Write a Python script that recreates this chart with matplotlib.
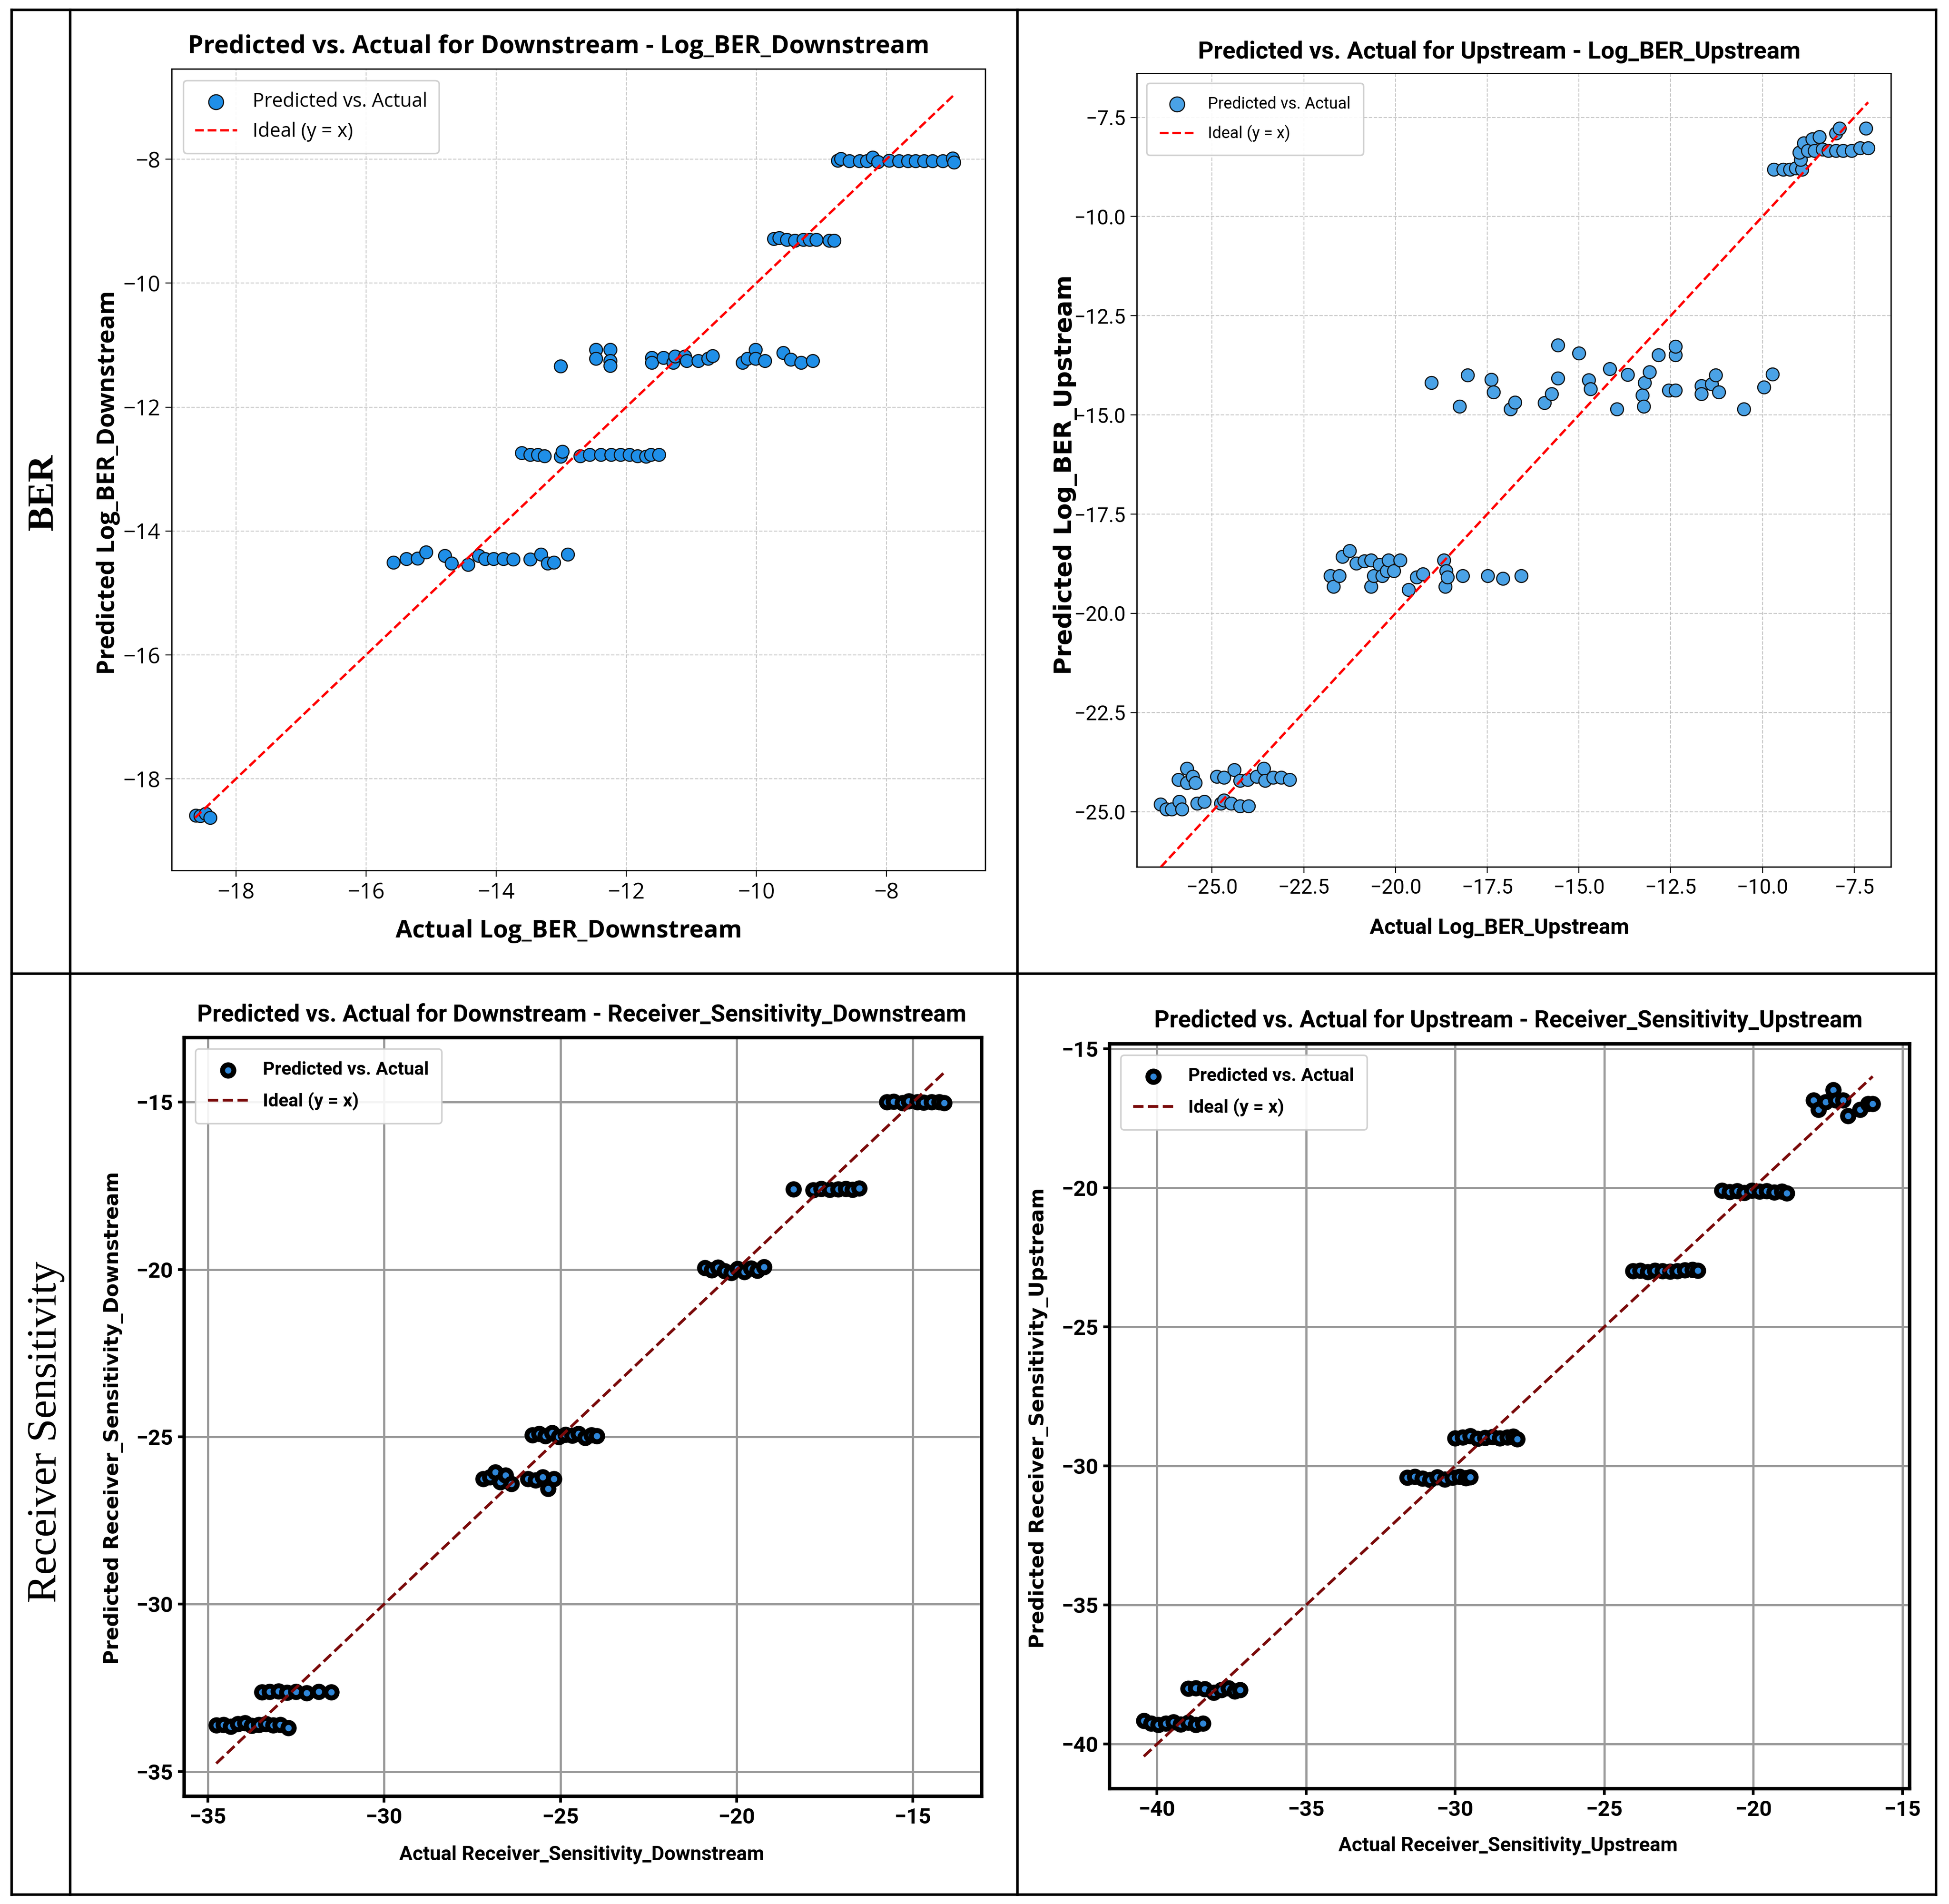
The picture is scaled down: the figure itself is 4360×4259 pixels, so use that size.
import numpy as np
import matplotlib
matplotlib.use("Agg")
import matplotlib.pyplot as plt
from matplotlib.lines import Line2D

# ---- data ----
# Log_BER_Downstream
ber_dn_actual = [-18.62, -18.55, -18.47, -18.40,
                 -15.58, -15.38, -15.21, -15.08, -14.79, -14.69, -14.43, -14.27, -14.17, -14.04, -13.89, -13.74,
                 -13.48, -13.31, -13.21, -13.11, -12.90,
                 -13.61, -13.48, -13.36, -13.26, -13.01, -12.98, -12.71, -12.56, -12.39, -12.23, -12.09, -11.95,
                 -11.83, -11.70, -11.62, -11.50,
                 -13.01, -12.47, -12.47, -12.25, -12.25, -12.25, -11.61, -11.61, -11.43, -11.28, -11.25, -11.10,
                 -11.07, -10.89, -10.74, -10.67, -10.21, -10.14, -10.01, -10.01, -9.87, -9.59, -9.47, -9.31, -9.13,
                 -9.73, -9.65, -9.53, -9.41, -9.28, -9.18, -9.08, -8.88, -8.80,
                 -8.75, -8.70, -8.57, -8.41, -8.30, -8.21, -8.13, -7.96, -7.81, -7.67, -7.55, -7.42, -7.29, -7.13,
                 -6.98, -6.96]
ber_dn_pred = [-18.59, -18.60, -18.56, -18.63,
               -14.51, -14.45, -14.44, -14.34, -14.40, -14.52, -14.54, -14.40, -14.45, -14.45, -14.45, -14.46,
               -14.46, -14.38, -14.52, -14.51, -14.38,
               -12.74, -12.77, -12.77, -12.79, -12.80, -12.72, -12.79, -12.77, -12.77, -12.77, -12.77, -12.77,
               -12.79, -12.80, -12.77, -12.77,
               -11.34, -11.07, -11.22, -11.07, -11.25, -11.33, -11.20, -11.28, -11.20, -11.28, -11.18, -11.18,
               -11.25, -11.25, -11.22, -11.17, -11.28, -11.22, -11.07, -11.22, -11.25, -11.12, -11.23, -11.28, -11.25,
               -9.28, -9.27, -9.30, -9.31, -9.30, -9.30, -9.30, -9.31, -9.31,
               -8.02, -7.99, -8.03, -8.03, -8.03, -7.97, -8.04, -8.02, -8.03, -8.03, -8.03, -8.03, -8.03, -8.03,
               -7.98, -8.05]

# Log_BER_Upstream
ber_up_actual = [-9.69, -9.44, -9.25, -9.09, -8.93, -8.96, -9.00, -8.88, -8.77, -8.64, -8.58, -8.45, -8.36,
                 -8.21, -8.00, -7.90, -8.00, -7.80, -7.57, -7.34, -7.18, -7.12,
                 -19.02, -18.26, -18.04, -17.39, -17.33, -16.87, -16.75, -15.94, -15.74, -15.58, -15.58, -15.00,
                 -14.74, -14.69, -14.16, -13.97, -13.68, -13.27, -13.21, -13.24, -13.08, -12.84, -12.56, -12.37,
                 -12.37, -12.37, -11.67, -11.67, -11.38, -11.27, -11.19, -10.51, -9.96, -9.73,
                 -21.77, -21.69, -21.53, -21.45, -21.25, -21.07, -20.85, -20.67, -20.67, -20.59, -20.43, -20.36,
                 -20.24, -20.19, -20.04, -19.88, -19.64, -19.43, -19.26, -18.68, -18.65, -18.62, -18.59, -18.17,
                 -17.49, -17.07, -16.58,
                 -26.40, -26.25, -26.10, -25.89, -25.82, -25.92, -25.68, -25.68, -25.53, -25.45, -25.40, -25.21,
                 -24.87, -24.68, -24.76, -24.68, -24.48, -24.40, -24.24, -24.24, -24.03, -24.00, -23.79, -23.59,
                 -23.56, -23.34, -23.11, -22.88]
ber_up_pred = [-8.81, -8.81, -8.81, -8.78, -8.81, -8.57, -8.38, -8.15, -8.34, -8.05, -8.34, -7.99, -8.31,
               -8.34, -7.90, -7.78, -8.34, -8.34, -8.34, -8.27, -7.78, -8.27,
               -14.19, -14.79, -14.00, -14.11, -14.42, -14.85, -14.68, -14.69, -14.47, -14.08, -13.24, -13.44,
               -14.12, -14.34, -13.84, -14.85, -13.98, -14.50, -14.19, -14.79, -13.92, -13.49, -14.38, -14.38,
               -13.49, -13.27, -14.27, -14.47, -14.22, -14.00, -14.42, -14.85, -14.30, -13.97,
               -19.06, -19.32, -19.06, -18.57, -18.42, -18.74, -18.68, -18.66, -19.32, -19.06, -18.77, -19.06,
               -18.93, -18.66, -18.93, -18.66, -19.40, -19.09, -19.01, -18.66, -19.32, -18.93, -19.09, -19.06,
               -19.06, -19.12, -19.06,
               -24.81, -24.94, -24.94, -24.75, -24.94, -24.19, -23.91, -24.27, -24.11, -24.27, -24.79, -24.75,
               -24.11, -24.14, -24.79, -24.71, -24.79, -23.95, -24.22, -24.86, -24.19, -24.86, -24.11, -23.91,
               -24.22, -24.14, -24.14, -24.19]

# Receiver_Sensitivity_Downstream
rs_dn_actual = [-15.74, -15.55, -15.29, -15.12, -14.88, -14.70, -14.47, -14.25, -14.11,
                -18.39, -17.83, -17.60, -17.36, -17.12, -16.90, -16.71, -16.53,
                -20.90, -20.71, -20.53, -20.34, -20.15, -19.97, -19.78, -19.59, -19.41, -19.22,
                -25.79, -25.60, -25.42, -25.23, -25.05, -24.86, -24.67, -24.49, -24.30, -24.12, -23.97,
                -27.19, -27.00, -26.85, -26.70, -26.55, -26.39, -25.92, -25.70, -25.50, -25.35, -25.18,
                -33.46, -33.25, -33.00, -32.75, -32.50, -32.20, -31.85, -31.50,
                -34.76, -34.55, -34.35, -34.15, -33.95, -33.75, -33.55, -33.35, -33.15, -32.95, -32.71]
rs_dn_pred = [-15.00, -14.98, -15.02, -14.97, -15.00, -15.01, -14.99, -15.00, -15.02,
              -17.60, -17.62, -17.59, -17.61, -17.60, -17.58, -17.61, -17.57,
              -19.95, -20.02, -19.93, -20.05, -20.10, -19.98, -20.07, -19.96, -20.03, -19.92,
              -24.95, -24.90, -24.97, -24.88, -25.00, -24.93, -24.96, -24.90, -25.02, -24.95, -24.97,
              -26.25, -26.20, -26.05, -26.35, -26.15, -26.40, -26.25, -26.30, -26.20, -26.55, -26.25,
              -32.63, -32.62, -32.60, -32.64, -32.62, -32.66, -32.62, -32.63,
              -33.62, -33.60, -33.65, -33.58, -33.55, -33.63, -33.60, -33.58, -33.62, -33.60, -33.70]

# Receiver_Sensitivity_Upstream
rs_up_actual = [-17.98, -17.82, -17.58, -17.32, -17.23, -16.99, -16.83, -16.43, -16.15, -16.00,
                -21.06, -20.80, -20.55, -20.30, -20.05, -19.80, -19.55, -19.30, -19.05, -18.88,
                -24.04, -23.80, -23.55, -23.30, -23.05, -22.80, -22.55, -22.30, -22.05, -21.86,
                -30.00, -29.75, -29.50, -29.25, -29.00, -28.75, -28.50, -28.25, -28.05, -27.92,
                -31.60, -31.35, -31.10, -30.85, -30.60, -30.35, -30.10, -29.85, -29.65, -29.50,
                -38.95, -38.70, -38.40, -38.10, -37.85, -37.60, -37.40, -37.22,
                -40.44, -40.20, -39.95, -39.70, -39.45, -39.20, -38.95, -38.70, -38.45]
rs_up_pred = [-16.85, -17.20, -16.92, -16.49, -16.85, -16.85, -17.41, -17.20, -16.98, -16.98,
              -20.10, -20.15, -20.12, -20.18, -20.10, -20.14, -20.12, -20.16, -20.13, -20.20,
              -23.00, -22.98, -23.02, -22.97, -23.00, -23.01, -22.99, -22.96, -22.95, -22.98,
              -29.00, -28.97, -28.92, -29.02, -28.98, -28.95, -29.01, -28.97, -28.94, -29.03,
              -30.42, -30.38, -30.45, -30.50, -30.40, -30.48, -30.42, -30.38, -30.44, -30.40,
              -38.00, -37.98, -38.02, -38.15, -38.05, -37.98, -38.10, -38.05,
              -39.15, -39.25, -39.30, -39.25, -39.20, -39.28, -39.22, -39.30, -39.25]

row_labels = ["BER", "Receiver Sensitivity"]

W, H = 4360, 4259
fig = plt.figure(figsize=(W / 100, H / 100), dpi=100)
fig.patch.set_facecolor("white")

OPEN = ["Open Sans", "DejaVu Sans"]
NARROW = ["Roboto", "DejaVu Sans"]


def px(x0, y0, x1, y1):
    # pixel box (top-left origin) -> figure rect
    return [x0 / W, 1 - y1 / H, (x1 - x0) / W, (y1 - y0) / H]


def panel(rect, actual, pred, xlim, ylim, style):
    ax = fig.add_axes(rect)
    a = np.array(actual)
    p = np.array(pred)
    lo = min(a.min(), p.min())
    hi = max(a.max(), p.max())
    ax.scatter(a, p, s=style["s"], c=style["face"], edgecolors=style["edge"],
               linewidths=style["ew"], alpha=style["alpha"], label="Predicted vs. Actual", zorder=3)
    ax.plot([lo, hi], [lo, hi], ls="--", color=style["line"], lw=style["lw"], label="Ideal (y = x)", zorder=4)
    ax.set_xlim(xlim)
    ax.set_ylim(ylim)
    ax.grid(True, ls=style["gls"], color=style["gc"], lw=style["glw"], alpha=style["galpha"])
    ax.set_axisbelow(True)
    for sp in ax.spines.values():
        sp.set_linewidth(style["spw"])
        sp.set_color("black")
    ax.tick_params(labelsize=style["tfs"], labelfontfamily=style["tfam"], width=style["spw"] * 0.8,
                   length=10, pad=8)
    for lbl in ax.get_xticklabels() + ax.get_yticklabels():
        lbl.set_fontweight(style["tw"])
    leg = ax.legend(loc="upper left", prop={"family": style["lfam"], "size": style["lfs"], "weight": style["lw_"]},
                    borderpad=style["bp"], labelspacing=style["lsp"], handlelength=2.2,
                    markerscale=style["ms"], framealpha=0.9, borderaxespad=0.6)
    leg.get_frame().set_linewidth(2.5)
    return ax


top_style = dict(s=430, face="#1f8fe8", edge="#111111", ew=1.8, alpha=1.0, line="red", lw=3.8,
                 gls="--", gc="#bbbbbb", glw=1.5, galpha=0.8, spw=2.0, tfs=35, tfam=OPEN, tw="normal",
                 lfam=OPEN, lfs=31, lw_="normal", ms=1.15, bp=0.6, lsp=0.5)
tr_style = dict(top_style)
tr_style.update(face="#4aa2e6", tfam=NARROW, tfs=33, lfam=NARROW, lfs=26, bp=0.8, lsp=0.8)
bot_style = dict(s=330, face="#2f86d8", edge="black", ew=8, alpha=1.0, line="#7a0a0a", lw=4.5,
                 gls="-", gc="#9a9a9a", glw=3.5, galpha=1.0, spw=5.5, tfs=35, tfam=NARROW, tw="bold",
                 lfam=NARROW, lfs=29.5, lw_="bold", ms=1.0, bp=0.7, lsp=0.75)

ax1 = panel(px(384, 154, 2204, 1947), ber_dn_actual, ber_dn_pred, (-18.99, -6.48), (-19.48, -6.54), top_style)
ax2 = panel(px(2543, 164, 4230, 1939), ber_up_actual, ber_up_pred, (-27.05, -6.50), (-26.39, -6.39), tr_style)
ax3 = panel(px(412, 2321, 2196, 4018), rs_dn_actual, rs_dn_pred, (-35.67, -13.05), (-35.74, -13.07), bot_style)
ax4 = panel(px(2482, 2335, 4272, 4001), rs_up_actual, rs_up_pred, (-41.59, -14.76), (-41.6, -14.83), bot_style)

# titles and axis labels
def ftext(x, y, s, **kw):
    fig.text(x / W, 1 - y / H, s, ha="center", va="center", **kw)

ftext(1250, 105, "Predicted vs. Actual for Downstream - Log_BER_Downstream", family=OPEN, weight="bold", size=40)
ftext(1272, 2083, "Actual Log_BER_Downstream", family=OPEN, weight="bold", size=39)
ftext(242, 1080, "Predicted Log_BER_Downstream", family=OPEN, weight="bold", size=39, rotation=90)

ftext(3354, 116, "Predicted vs. Actual for Upstream - Log_BER_Upstream", family=NARROW, weight="bold", size=39)
ftext(3354, 2076, "Actual Log_BER_Upstream", family=NARROW, weight="bold", size=35)
ftext(2383, 1062, "Predicted Log_BER_Upstream", family=["DejaVu Sans"], weight="bold", size=39, rotation=90)

ftext(1301, 2270, "Predicted vs. Actual for Downstream - Receiver_Sensitivity_Downstream", family=NARROW,
      weight="bold", size=38)
ftext(1301, 4149, "Actual Receiver_Sensitivity_Downstream", family=NARROW, weight="bold", size=32)
ftext(254, 3172, "Predicted Receiver_Sensitivity_Downstream", family=["DejaVu Sans"], weight="bold", size=32,
      rotation=90)

ftext(3374, 2283, "Predicted vs. Actual for Upstream - Receiver_Sensitivity_Upstream", family=NARROW,
      weight="bold", size=38)
ftext(3374, 4129, "Actual Receiver_Sensitivity_Upstream", family=NARROW, weight="bold", size=32)
ftext(2324, 3172, "Predicted Receiver_Sensitivity_Upstream", family=["DejaVu Sans"], weight="bold", size=32,
      rotation=90)

# row labels of the table
ftext(98, 1101, row_labels[0], family=["Liberation Serif"], weight="bold", size=60, rotation=90)
ftext(103, 3203, row_labels[1], family=["Liberation Serif"], size=68, rotation=90)

# table border lines
xs = [26, 157, 2276, 4331]
ys = [22, 2178, 4238]
for x in xs:
    fig.add_artist(Line2D([x / W, x / W], [1 - ys[0] / H, 1 - ys[2] / H], color="black", lw=4))
for y in ys:
    fig.add_artist(Line2D([xs[0] / W, xs[3] / W], [1 - y / H, 1 - y / H], color="black", lw=4))

fig.savefig("out.png", dpi=100, facecolor="white")
